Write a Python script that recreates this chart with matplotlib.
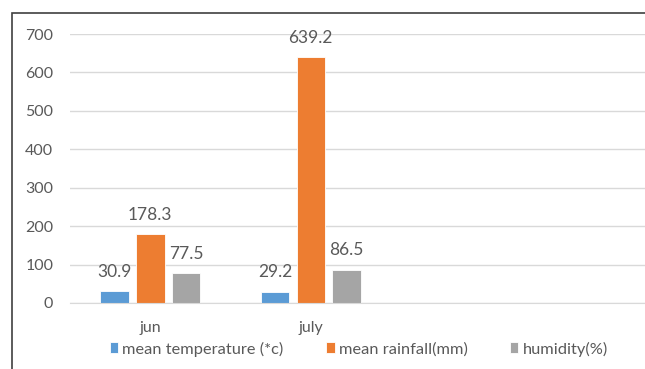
import numpy as np
import matplotlib.pyplot as plt
from matplotlib.patches import Rectangle

# ----- data ---------------------------------------------------------

months = ["jun", "july"]
temperature = [30.9, 29.2]
rainfall = [178.3, 639.2]
humidity = [77.5, 86.5]

series = [
    ("mean temperature (*c)", temperature, "#5B9BD5"),
    ("mean rainfall(mm)", rainfall, "#ED7D31"),
    ("humidity(%)", humidity, "#A5A5A5"),
]

plt.rcParams["font.family"] = ["Lato", "DejaVu Sans"]
txt = "#595959"

# ----- figure -------------------------------------------------------

W, H = 645, 369
fig = plt.figure(figsize=(W / 100, H / 100), dpi=100)
ax = fig.add_axes([70 / W, (H - 303) / H, 1 - 70 / W, (303 - 34) / H])

x = np.arange(len(months))
step = 160.5          # px per category
bw = 28.5 / step
off = 35.8 / step

handles = []
for i, (name, vals, col) in enumerate(series):
    pos = x + (i - 1) * off
    b = ax.bar(pos, vals, width=bw, color=col, edgecolor="white", linewidth=0.6, label=name)
    handles.append(b)
    for p, v in zip(pos, vals):
        ax.annotate(f"{v:.1f}", (p, v), xytext=(0, 14), textcoords="offset points",
                    ha="center", va="center", fontsize=12.5, color=txt)

ax.set_xlim(-0.5, -0.5 + (W - 70) / step)
ax.set_ylim(0, 700)
ax.set_yticks(range(0, 701, 100))
ax.set_xticks(x)
ax.set_xticklabels(months)
ax.yaxis.grid(True, color="#D9D9D9", linewidth=1)
ax.set_axisbelow(True)
for s in ["top", "right", "left"]:
    ax.spines[s].set_visible(False)
ax.spines["bottom"].set_color("#D9D9D9")
ax.tick_params(axis="y", length=0, pad=12, labelsize=11.5, labelcolor=txt)
ax.tick_params(axis="x", length=0, pad=13, labelsize=11.5, labelcolor=txt)

fig.legend(handles=handles, loc="center left", bbox_to_anchor=(102 / W, (H - 349) / H),
           ncol=3, frameon=False, fontsize=11.8, labelcolor=txt, borderpad=0,
           handlelength=0.5, handleheight=0.65, handletextpad=0.25, columnspacing=2.6)

# outer chart frame (cropped on right / bottom)
fig.patches.append(Rectangle((12 / W, -0.1), 1.2, (H - 13) / H + 0.1,
                             transform=fig.transFigure, fill=False,
                             edgecolor="#404040", linewidth=1.2))

fig.savefig("out.png", dpi=100)
